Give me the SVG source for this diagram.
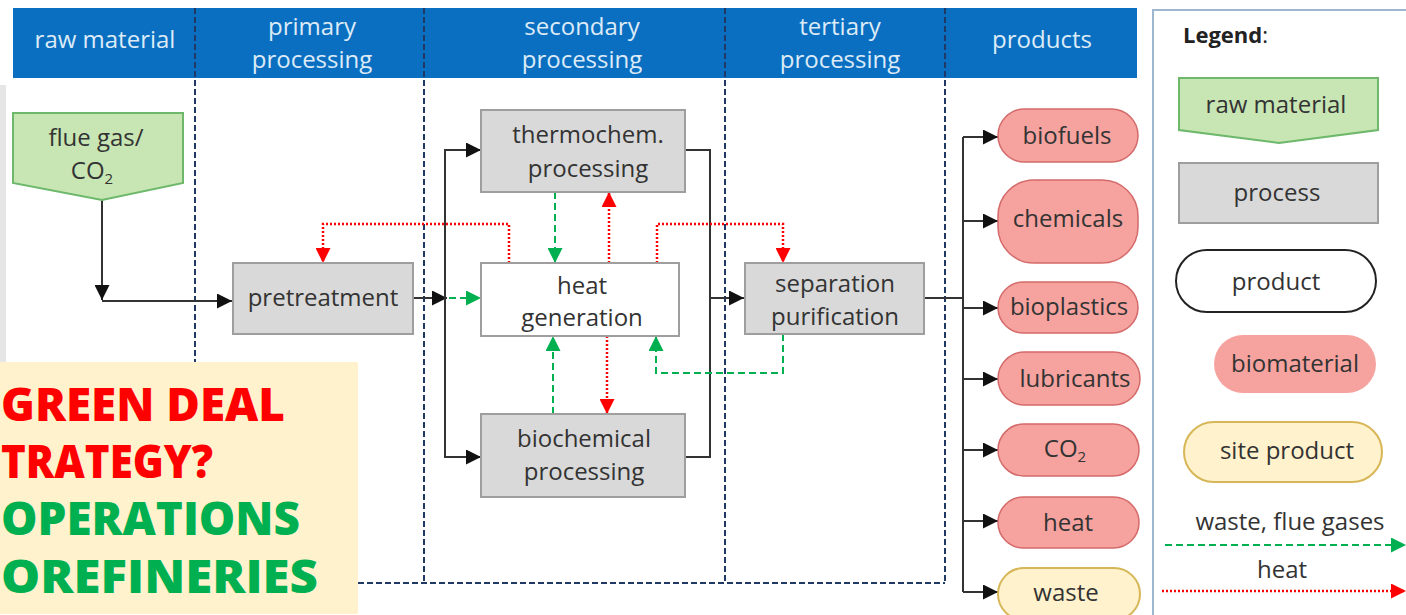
<svg xmlns="http://www.w3.org/2000/svg" width="1406" height="615" viewBox="0 0 1406 615">
<style>
.t{font-family:"Open Sans","Liberation Sans",sans-serif;font-size:24px;fill:#333;text-anchor:middle}
.h{font-family:"Open Sans","Liberation Sans",sans-serif;font-size:24px;fill:#DCEBF7;text-anchor:middle}
.div{stroke:#1F3864;stroke-width:2;stroke-dasharray:6,3;fill:none}
.proc{fill:#D9D9D9;stroke:#9E9E9E;stroke-width:2}
.bio{fill:#F6A39F;stroke:#D46A6A;stroke-width:1.5}
.site{fill:#FFF2CC;stroke:#D6B656;stroke-width:2}
.raw{fill:#C8E6B4;stroke:#6DB86B;stroke-width:2}
.k{stroke:#333;stroke-width:2;fill:none}
.g{stroke:#00B050;stroke-width:2;stroke-dasharray:7,4;fill:none}
.r{stroke:#FF0000;stroke-width:2.5;stroke-dasharray:2,2;fill:none}
.big{font-family:"Open Sans","Noto Sans","Liberation Sans",sans-serif;font-weight:800;font-size:46px}
</style>
<defs>
<marker id="ak" viewBox="0 0 10 10" refX="10" refY="5" markerUnits="userSpaceOnUse" markerWidth="16" markerHeight="15" orient="auto"><path d="M0,0L10,5L0,10z" fill="#111"/></marker>
<marker id="ag" viewBox="0 0 10 10" refX="10" refY="5" markerUnits="userSpaceOnUse" markerWidth="15" markerHeight="15" orient="auto"><path d="M0,0L10,5L0,10z" fill="#00B050"/></marker>
<marker id="ar" viewBox="0 0 10 10" refX="10" refY="5" markerUnits="userSpaceOnUse" markerWidth="15" markerHeight="15" orient="auto"><path d="M0,0L10,5L0,10z" fill="#FF0000"/></marker>
</defs>
<rect width="1406" height="615" fill="#fff"/>
<rect x="0" y="85" width="6" height="280" fill="#E6E6E6"/>
<g id="header">
<rect x="13" y="8" width="1124" height="70" fill="#0B6FC1"/>
<text class="h" x="105" y="48">raw material</text>
<text class="h" x="312" y="35">primary</text><text class="h" x="312" y="68">processing</text>
<text class="h" x="582" y="35">secondary</text><text class="h" x="582" y="68">processing</text>
<text class="h" x="840" y="35">tertiary</text><text class="h" x="840" y="68">processing</text>
<text class="h" x="1042" y="48">products</text>
</g>
<g id="dividers">
<path class="div" d="M195,8V365M424,8V583M725,8V583M945,8V583M358,583H945"/>
</g>
<g id="legend-box"><rect x="1153" y="10" width="260" height="615" fill="none" stroke="#9DB7D0" stroke-width="2"/></g>
<g id="connectors">
<path class="k" d="M102,200V300" marker-end="url(#ak)"/>
<path class="k" d="M102,301H232" marker-end="url(#ak)"/>
<path class="k" d="M413,298H447" marker-end="url(#ak)"/>
<path class="k" d="M445,298V150H481" marker-end="url(#ak)"/>
<path class="k" d="M445,298V457H481" marker-end="url(#ak)"/>
<path class="k" d="M685,150H710V457H685"/>
<path class="k" d="M710,298H744" marker-end="url(#ak)"/>
<path class="k" d="M924,298H963M963,137V592"/>
<path class="k" d="M963,137H998" marker-end="url(#ak)"/>
<path class="k" d="M963,221H998" marker-end="url(#ak)"/>
<path class="k" d="M963,308H998" marker-end="url(#ak)"/>
<path class="k" d="M963,379H998" marker-end="url(#ak)"/>
<path class="k" d="M963,450H998" marker-end="url(#ak)"/>
<path class="k" d="M963,521H998" marker-end="url(#ak)"/>
<path class="k" d="M963,592H998" marker-end="url(#ak)"/>
<path class="g" d="M449,298H481" marker-end="url(#ag)"/>
<path class="g" d="M555,192V263" marker-end="url(#ag)"/>
<path class="g" d="M553,414V336" marker-end="url(#ag)"/>
<path class="g" d="M783,334V373H656V336" marker-end="url(#ag)"/>
<path class="r" d="M609,263V192" marker-end="url(#ar)"/>
<path class="r" d="M607,336V414" marker-end="url(#ar)"/>
<path class="r" d="M509,263V224H323V263" marker-end="url(#ar)"/>
<path class="r" d="M657,263V224H783V263" marker-end="url(#ar)"/>
<path class="g" d="M1165,545H1406" marker-end="url(#ag)"/>
<path class="r" d="M1162,591H1406" marker-end="url(#ar)"/>
</g>
<g id="flue-gas">
<path class="raw" d="M13,113H183V183L102,200L13,183Z"/>
<text class="t" x="96" y="146">flue gas/</text>
<text class="t" x="92" y="179">CO<tspan font-size="15" dy="5">2</tspan></text>
</g>
<g id="pretreatment"><rect class="proc" x="233" y="263" width="180" height="71"/><text class="t" x="323" y="306">pretreatment</text></g>
<g id="thermochem"><rect class="proc" x="481" y="110" width="204" height="82"/><text class="t" x="588" y="143">thermochem.</text><text class="t" x="588" y="177">processing</text></g>
<g id="heat-generation"><rect x="481" y="263" width="198" height="73" fill="#fff" stroke="#9E9E9E" stroke-width="2"/><text class="t" x="582" y="294">heat</text><text class="t" x="582" y="326">generation</text></g>
<g id="biochemical"><rect class="proc" x="481" y="414" width="204" height="83"/><text class="t" x="584" y="447">biochemical</text><text class="t" x="584" y="480">processing</text></g>
<g id="separation"><rect class="proc" x="745" y="263" width="179" height="71"/><text class="t" x="835" y="292">separation</text><text class="t" x="835" y="325">purification</text></g>
<g id="biofuels"><rect class="bio" x="998" y="109" width="140" height="53" rx="26.5"/><text class="t" x="1067" y="144">biofuels</text></g>
<g id="chemicals"><rect class="bio" x="998" y="180" width="140" height="83" rx="36"/><text class="t" x="1068" y="227">chemicals</text></g>
<g id="bioplastics"><rect class="bio" x="998" y="282" width="140" height="51" rx="25.5"/><text class="t" x="1069" y="315">bioplastics</text></g>
<g id="lubricants"><rect class="bio" x="998" y="352" width="142" height="53" rx="26.5"/><text class="t" x="1075" y="387">lubricants</text></g>
<g id="co2"><rect class="bio" x="998" y="424" width="141" height="52" rx="26"/><text class="t" x="1065" y="457">CO<tspan font-size="15" dy="5">2</tspan></text></g>
<g id="heat"><rect class="bio" x="998" y="497" width="141" height="51" rx="25.5"/><text class="t" x="1068" y="531">heat</text></g>
<g id="waste"><rect class="site" x="998" y="568" width="142" height="52" rx="26"/><text class="t" x="1066" y="601">waste</text></g>
<g id="legend">
<text x="1183" y="43" style="font-family:'Open Sans','Liberation Sans',sans-serif;font-size:22px;font-weight:bold;fill:#222">Legend<tspan font-weight="normal">:</tspan></text>
<path class="raw" d="M1179,78H1378V130L1279,143L1179,130Z"/><text class="t" x="1276" y="113">raw material</text>
<rect class="proc" x="1179" y="163" width="199" height="60"/><text class="t" x="1277" y="201">process</text>
<rect x="1176" y="250" width="200" height="62" rx="31" fill="#fff" stroke="#222" stroke-width="2"/><text class="t" x="1276" y="290">product</text>
<rect x="1214" y="335" width="162" height="58" rx="29" fill="#F6A39F"/><text class="t" x="1295" y="372">biomaterial</text>
<rect class="site" x="1184" y="422" width="198" height="60" rx="30"/><text class="t" x="1287" y="459">site product</text>
<text class="t" x="1290" y="530">waste, flue gases</text>
<text class="t" x="1282" y="578">heat</text>
</g>
<g id="overlay">
<rect x="0" y="362" width="358" height="252" fill="#FFF2CC"/>
<text class="big" x="1" y="421" fill="#FF0000" textLength="284" lengthAdjust="spacingAndGlyphs">GREEN DEAL</text>
<text class="big" x="1" y="478" fill="#FF0000" textLength="212" lengthAdjust="spacingAndGlyphs">TRATEGY?</text>
<text class="big" x="1" y="535" fill="#00B050" textLength="299" lengthAdjust="spacingAndGlyphs">OPERATIONS</text>
<text class="big" x="1" y="593" fill="#00B050" textLength="317" lengthAdjust="spacingAndGlyphs">OREFINERIES</text>
</g>
</svg>
